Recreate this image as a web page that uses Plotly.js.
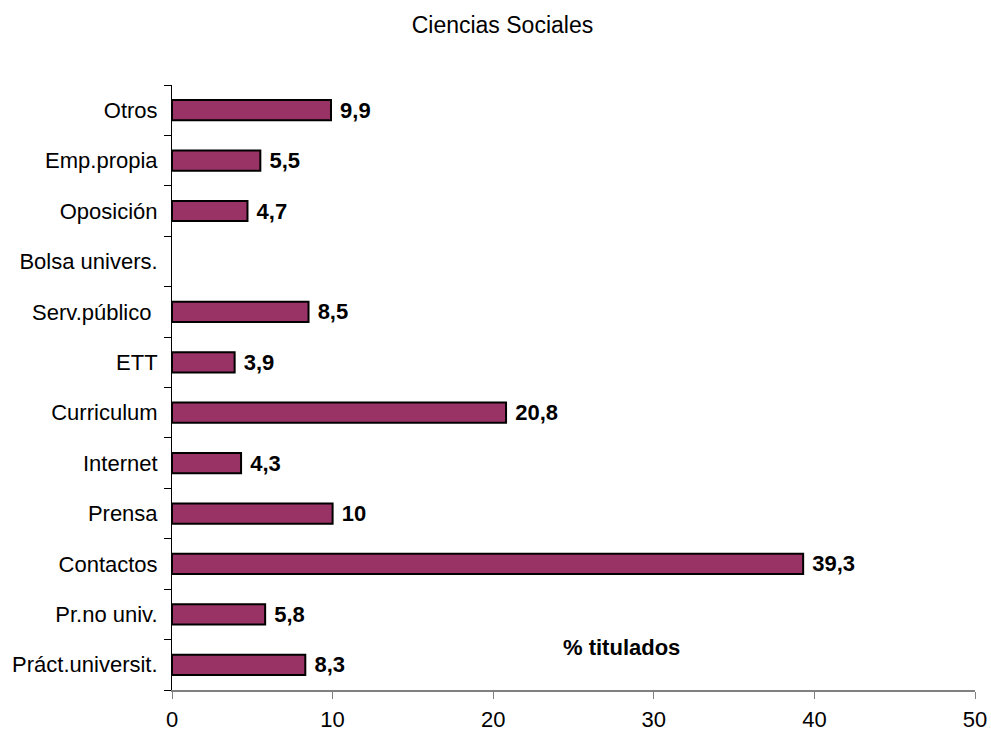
<!DOCTYPE html>
<html>
<head>
<meta charset="utf-8">
<script src="https://cdn.plot.ly/plotly-3.0.1.min.js"></script>
<style>html,body{margin:0;padding:0;background:#fff;}#chart{width:991px;height:731px;}</style>
</head>
<body>
<div id="chart"></div>
<script>
var categories = ["Práct.universit.", "Pr.no univ.", "Contactos", "Prensa", "Internet", "Curriculum", "ETT", "Serv.público ", "Bolsa univers.", "Oposición", "Emp.propia", "Otros"];
var values = [8.3, 5.8, 39.3, 10, 4.3, 20.8, 3.9, 8.5, null, 4.7, 5.5, 9.9];
var xTicks = [0, 10, 20, 30, 40, 50];
var chartTitle = "Ciencias Sociales";
var axisNote = "% titulados";

var labels = values.map(function (v) { return v === null ? "" : " " + String(v).replace(".", ","); });

var FONT = "Liberation Sans, Arial, sans-serif";

var trace = {
  type: "bar",
  orientation: "h",
  y: categories,
  x: values,
  text: labels,
  textposition: "outside",
  constraintext: "none",
  cliponaxis: false,
  textfont: {family: FONT, size: 22, color: "#000", weight: "bold"},
  marker: {color: "#993366", line: {color: "#000", width: 2}},
  width: 0.4,
  hoverinfo: "none"
};

var layout = {
  width: 991, height: 731,
  margin: {l: 172, r: 16, t: 85, b: 41},
  paper_bgcolor: "#fff", plot_bgcolor: "#fff",
  showlegend: false,
  font: {family: FONT, size: 22, color: "#000"},
  title: {text: chartTitle, x: 0.507, xref: "container", xanchor: "center",
          y: 0.966, yref: "container", yanchor: "middle",
          font: {family: FONT, size: 23, color: "#000"}},
  xaxis: {range: [0, 50], tickvals: xTicks, ticktext: xTicks.map(String), showgrid: false, zeroline: false,
          showline: true, linecolor: "#808080", linewidth: 2, ticks: "outside", ticklen: 7, tickcolor: "#808080",
          tickfont: {size: 22}, ticklabelstandoff: 2, fixedrange: true},
  yaxis: {type: "category", categoryorder: "array", categoryarray: categories, showgrid: false, zeroline: false,
          showline: true, linecolor: "#000", linewidth: 1, ticks: "outside", tickson: "boundaries", ticklen: 7,
          tickcolor: "#000", tickfont: {size: 22}, ticklabelstandoff: 9, fixedrange: true},
  annotations: [{text: "<b>" + axisNote + "</b>", xref: "x", yref: "paper", x: 28.0, y: 0.071,
                 xanchor: "center", yanchor: "middle",
                 showarrow: false, font: {size: 22, color: "#000"}}]
};

Plotly.newPlot("chart", [trace], layout, {displayModeBar: false, staticPlot: true});
</script>
</body>
</html>
